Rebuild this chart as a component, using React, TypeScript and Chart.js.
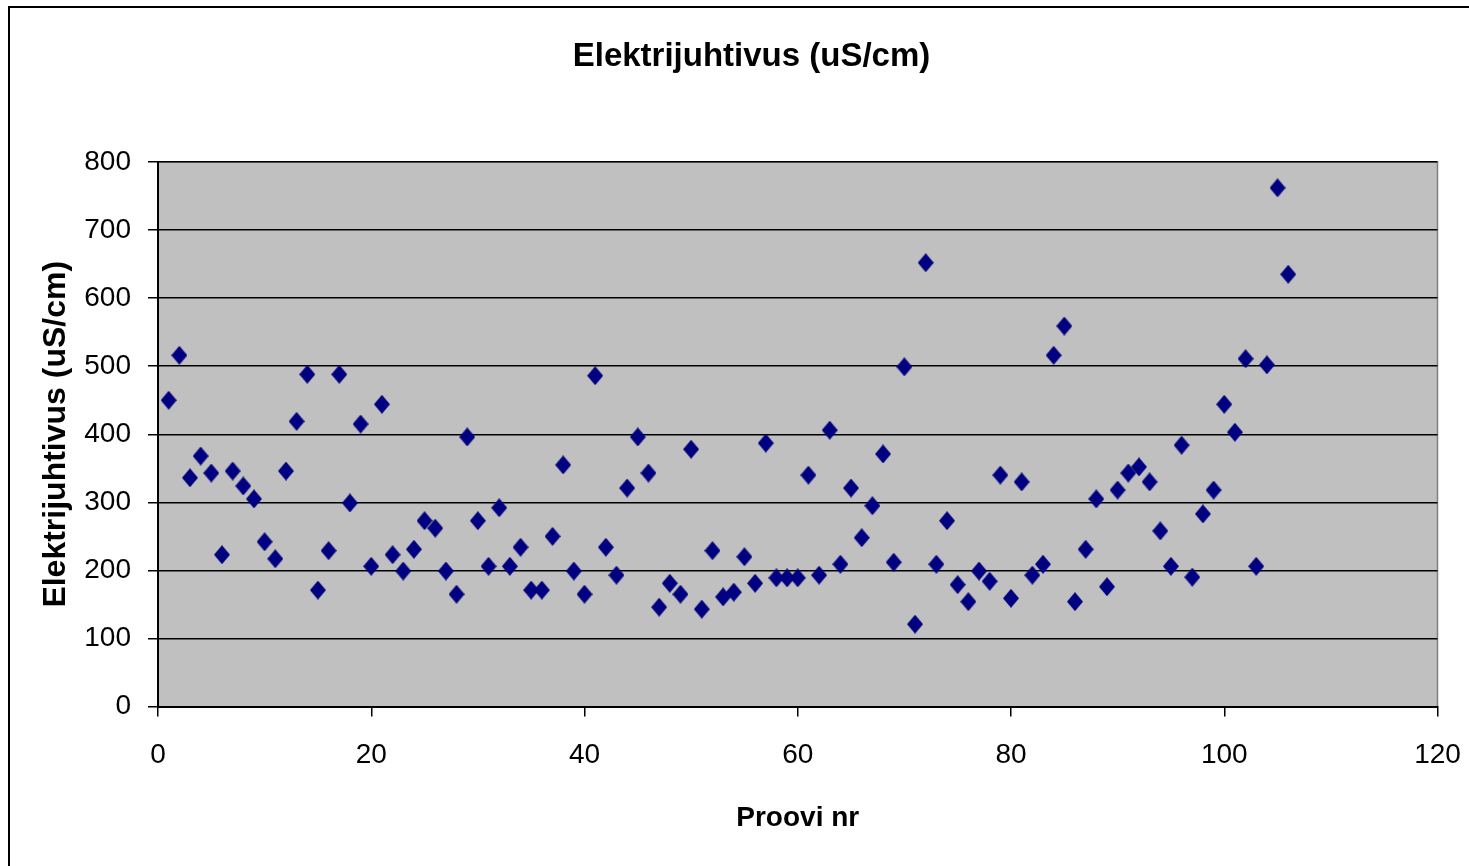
import React, { useEffect, useRef } from "react";
import { Chart, registerables } from "chart.js";

Chart.register(...registerables);

const chartTitle = "Elektrijuhtivus (uS/cm)";
const xAxisTitle = "Proovi nr";
const yAxisTitle = "Elektrijuhtivus (uS/cm)";

const sampleNumbers = [
  1, 2, 3, 4, 5, 6, 7, 8, 9, 10,
  11, 12, 13, 14, 15, 16, 17, 18, 19, 20,
  21, 22, 23, 24, 25, 26, 27, 28, 29, 30,
  31, 32, 33, 34, 35, 36, 37, 38, 39, 40,
  41, 42, 43, 44, 45, 46, 47, 48, 49, 50,
  51, 52, 53, 54, 55, 56, 57, 58, 59, 60,
  61, 62, 63, 64, 65, 66, 67, 68, 69, 70,
  71, 72, 73, 74, 75, 76, 77, 78, 79, 80,
  81, 82, 83, 84, 85, 86, 87, 88, 89, 90,
  91, 92, 93, 94, 95, 96, 97, 98, 99, 100,
  101, 102, 103, 104, 105, 106,
];

const conductivity = [
  450, 516, 336, 368, 343, 223, 346, 324, 305, 242,
  217, 346, 419, 488, 171, 229, 488, 299, 415, 206,
  444, 223, 199, 231, 273, 262, 199, 165, 396, 273,
  206, 292, 206, 234, 171, 171, 250, 355, 199, 165,
  486, 234, 193, 321, 396, 343, 146, 181, 165, 378,
  143, 229, 161, 168, 220, 181, 387, 189, 189, 189,
  340, 193, 406, 209, 321, 248, 295, 371, 212, 499,
  121, 652, 209, 273, 179, 154, 199, 184, 340, 159,
  330, 193, 209, 516, 559, 154, 231, 305, 176, 318,
  343, 352, 330, 258, 206, 384, 190, 283, 318, 444,
  403, 511, 206, 502, 762, 635,
];

const xMin = 0;
const xMax = 120;
const xStep = 20;
const yMin = 0;
const yMax = 800;
const yStep = 100;

const FONT = "'Liberation Sans', Arial, Helvetica, sans-serif";

function makeDiamond(): HTMLCanvasElement {
  const c = document.createElement("canvas");
  c.width = 16;
  c.height = 19;
  const g = c.getContext("2d")!;
  g.fillStyle = "#000080";
  g.beginPath();
  g.moveTo(8, 0);
  g.lineTo(16, 9.5);
  g.lineTo(8, 19);
  g.lineTo(0, 9.5);
  g.closePath();
  g.fill();
  return c;
}

const plotBackground = {
  id: "plotBackground",
  beforeDraw(chart: any) {
    const { ctx, chartArea: a } = chart;
    ctx.save();
    ctx.fillStyle = "#c0c0c0";
    ctx.fillRect(a.left, a.top, a.right - a.left, a.bottom - a.top);
    ctx.strokeStyle = "#808080";
    ctx.lineWidth = 1.5;
    ctx.beginPath();
    ctx.moveTo(a.left, a.top);
    ctx.lineTo(a.right, a.top);
    ctx.lineTo(a.right, a.bottom);
    ctx.stroke();
    ctx.restore();
  },
  afterDraw(chart: any) {
    const { ctx, width, height } = chart;
    ctx.save();
    ctx.strokeStyle = "#000";
    ctx.lineWidth = 2;
    ctx.beginPath();
    ctx.moveTo(9, height);
    ctx.lineTo(9, 7);
    ctx.lineTo(width, 7);
    ctx.stroke();
    ctx.restore();
  },
};

export default function App() {
  const ref = useRef<HTMLCanvasElement | null>(null);

  useEffect(() => {
    if (!ref.current) return;
    const diamond = makeDiamond();
    const points = sampleNumbers.map((x, i) => ({ x, y: conductivity[i] }));
    const chart = new Chart(ref.current, {
      type: "scatter",
      data: {
        datasets: [
          {
            label: yAxisTitle,
            data: points,
            pointStyle: diamond as any,
            pointRadius: 8,
            backgroundColor: "#000080",
            borderColor: "#000080",
          },
        ],
      },
      plugins: [plotBackground],
      options: {
        animation: false,
        responsive: false,
        maintainAspectRatio: false,
        layout: { padding: { left: 65.5, right: 31.5, top: 0, bottom: 0 } },
        plugins: {
          legend: { display: false },
          tooltip: { enabled: false },
          title: {
            display: true,
            text: chartTitle,
            color: "#000",
            font: { family: FONT, size: 33, weight: "bold", lineHeight: 1 },
            padding: { top: 40.5, bottom: 88.5 },
          },
        },
        scales: {
          x: {
            type: "linear",
            min: xMin,
            max: xMax,
            ticks: {
              stepSize: xStep,
              color: "#000",
              padding: 22,
              font: { family: FONT, size: 28 },
              maxRotation: 0,
            },
            grid: {
              drawOnChartArea: false,
              drawTicks: true,
              tickLength: 10,
              color: "#000",
              lineWidth: 1.5,
            },
            border: { color: "#000", width: 2 },
            title: {
              display: true,
              text: xAxisTitle,
              color: "#000",
              font: { family: FONT, size: 28, weight: "bold" },
              padding: { top: 0, bottom: 31 },
            },
            afterFit(scale: any) {
              scale.height = 159.5;
              scale.paddingLeft = 0;
              scale.paddingRight = 0;
            },
          },
          y: {
            type: "linear",
            min: yMin,
            max: yMax,
            ticks: {
              stepSize: yStep,
              color: "#000",
              padding: 17,
              font: { family: FONT, size: 28 },
            },
            grid: {
              drawOnChartArea: true,
              drawTicks: true,
              tickLength: 10,
              color: "#000",
              lineWidth: 1.5,
            },
            border: { color: "#000", width: 2 },
            title: {
              display: true,
              text: yAxisTitle,
              color: "#000",
              font: { family: FONT, size: 32, weight: "bold", lineHeight: 1 },
              padding: { top: -25, bottom: 0 },
            },
            afterFit(scale: any) {
              scale.width = 92.5;
            },
          },
        },
      },
    });
    return () => chart.destroy();
  }, []);

  return (
    <div style={{ position: "absolute", left: 0, top: 0, width: 1469, height: 866, background: "#fff" }}>
      <canvas ref={ref} width={1469} height={866} style={{ width: 1469, height: 866, display: "block" }} />
    </div>
  );
}
